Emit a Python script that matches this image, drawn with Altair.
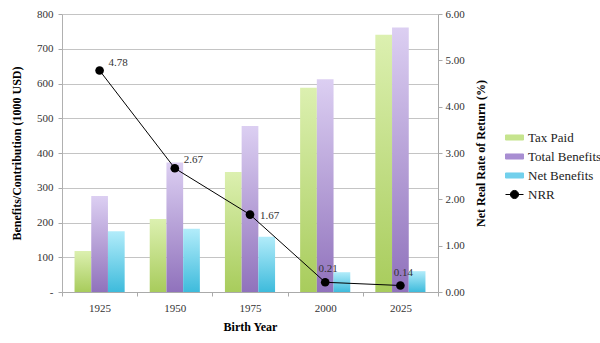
import altair as alt
import pandas as pd

years = ["1925", "1950", "1975", "2000", "2025"]
series = ["Tax Paid", "Total Benefits", "Net Benefits"]
tax_paid = [118, 210, 345, 588, 740]
total_benefits = [276, 373, 478, 612, 761]
net_benefits = [175, 182, 159, 57, 60]
nrr = [4.78, 2.67, 1.67, 0.21, 0.14]

legend_names = ["Tax Paid", "Total Benefits", "Net Benefits", "NRR"]
legend_colors = ["#c6e48e", "#a88ed2", "#72d0ec", "#000000"]

rows = []
for i, y in enumerate(years):
    rows.append({"Year": y, "Series": "Tax Paid", "Value": tax_paid[i]})
    rows.append({"Year": y, "Series": "Total Benefits", "Value": total_benefits[i]})
    rows.append({"Year": y, "Series": "Net Benefits", "Value": net_benefits[i]})
bars_df = pd.DataFrame(rows)
nrr_df = pd.DataFrame({"Year": years, "NRR": nrr})
leg_df = pd.DataFrame({"Series": legend_names})

FONT = "Liberation Serif"

gradients = {
    "Tax Paid": ("#dcf0b0", "#a8cc5c"),
    "Total Benefits": ("#dccff2", "#9072bc"),
    "Net Benefits": ("#b2ecfa", "#3ebbdc"),
}

x_enc = alt.X(
    "Year:N",
    sort=years,
    scale=alt.Scale(paddingInner=0, paddingOuter=0),
    axis=alt.Axis(
        title="Birth Year", titleFont=FONT, titleFontSize=12, titleFontWeight="bold",
        titleColor="#000", titlePadding=8,
        labelFont=FONT, labelFontSize=11, labelColor="#333", labelAngle=0, labelPadding=6,
        tickBand="extent", tickSize=4, tickColor="#aaaaaa", domainColor="#aaaaaa",
    ),
)

y_left = alt.Y(
    "Value:Q",
    scale=alt.Scale(domain=[0, 800]),
    axis=alt.Axis(
        title="Benefits/Contribution (1000 USD)", titleFont=FONT, titleFontSize=12,
        titleFontWeight="bold", titleColor="#000", titlePadding=13,
        labelFont=FONT, labelFontSize=11, labelColor="#333", labelPadding=5,
        values=[0, 100, 200, 300, 400, 500, 600, 700, 800],
        labelExpr="datum.value == 0 ? '-' : datum.label",
        grid=True, gridColor="#c4c4c4", tickSize=4, tickColor="#aaaaaa", domainColor="#b0b0b0",
    ),
)

bar_layers = []
for s in series:
    top, bottom = gradients[s]
    bar_layers.append(
        alt.Chart(bars_df)
        .transform_filter(alt.datum.Series == s)
        .mark_bar(
            fill=alt.Gradient(
                gradient="linear",
                stops=[alt.GradientStop(color=top, offset=0), alt.GradientStop(color=bottom, offset=1)],
                x1=0, x2=0, y1=0, y2=1,
            )
        )
        .encode(
            x=x_enc,
            xOffset=alt.XOffset("Series:N", sort=series,
                                scale=alt.Scale(domain=series, paddingInner=0, paddingOuter=0.75)),
            y=y_left,
        )
    )
bars = alt.layer(*bar_layers)

y_right = alt.Y(
    "NRR:Q",
    scale=alt.Scale(domain=[0, 6]),
    axis=alt.Axis(
        orient="right", title="Net Real Rate of Return (%)", titleFont=FONT, titleFontSize=12,
        titleFontWeight="bold", titleColor="#000", titleAngle=270, titleBaseline="top",
        titlePadding=11,
        labelFont=FONT, labelFontSize=11, labelColor="#333", labelPadding=3,
        values=[0, 1, 2, 3, 4, 5, 6], format=".2f",
        grid=False, tickSize=4, tickColor="#aaaaaa", domainColor="#aaaaaa",
    ),
)

base_line = alt.Chart(nrr_df).encode(x=x_enc, y=y_right)
line = base_line.mark_line(color="#000", strokeWidth=1)
pts = base_line.mark_point(filled=True, color="#000", size=75, opacity=1)
txt_style = dict(font=FONT, fontSize=11, color="#333")
t1 = base_line.transform_filter("datum.Year == '1925' || datum.Year == '1950'").mark_text(
    align="left", dx=9, dy=-8, **txt_style).encode(text=alt.Text("NRR:Q", format=".2f"))
t2 = base_line.transform_filter("datum.Year == '1975'").mark_text(
    align="left", dx=10, dy=1, **txt_style).encode(text=alt.Text("NRR:Q", format=".2f"))
t3 = base_line.transform_filter("datum.Year == '2000' || datum.Year == '2025'").mark_text(
    align="center", dx=3, dy=-13, **txt_style).encode(text=alt.Text("NRR:Q", format=".2f"))
line_layer = alt.layer(line, pts, t1, t2, t3)

rect_path = "M-1,-0.28H1V0.28H-1Z"
nrr_path = "M-1,0H1M-0.45,0A0.45,0.45,0,1,0,0.45,0A0.45,0.45,0,1,0,-0.45,0Z"
leg_scale_c = alt.Scale(domain=legend_names, range=legend_colors)
legend_cfg = alt.Legend(
    title=None, orient="none", legendX=443, legendY=114,
    labelFont=FONT, labelFontSize=13, labelColor="#222", labelOffset=4,
    symbolSize=324, symbolStrokeWidth=1, symbolOpacity=1, rowPadding=2,
)
legend_layer = alt.Chart(leg_df).mark_point(opacity=0).encode(
    fill=alt.Fill("Series:N", scale=leg_scale_c, legend=legend_cfg, sort=legend_names),
    stroke=alt.Stroke("Series:N", scale=leg_scale_c, legend=legend_cfg, sort=legend_names),
    shape=alt.Shape("Series:N", scale=alt.Scale(domain=legend_names,
                                                 range=[rect_path, rect_path, rect_path, nrr_path]),
                    legend=legend_cfg, sort=legend_names),
)

chart = (
    alt.layer(bars, line_layer, legend_layer)
    .resolve_scale(y="independent")
    .properties(
        width=376, height=278,
        padding={"left": 62, "top": 14, "right": 162, "bottom": 51},
        autosize=alt.AutoSizeParams(type="none"),
        background="white",
    )
    .configure(font=FONT)
    .configure_view(strokeWidth=0)
    .configure_axis(labelFont=FONT, titleFont=FONT)
    .configure_legend(labelFont=FONT, titleFont=FONT, labelFontSize=13)
    .configure_text(font=FONT)
)

chart.save("out.html", embed_options={"renderer": "svg", "actions": False})
